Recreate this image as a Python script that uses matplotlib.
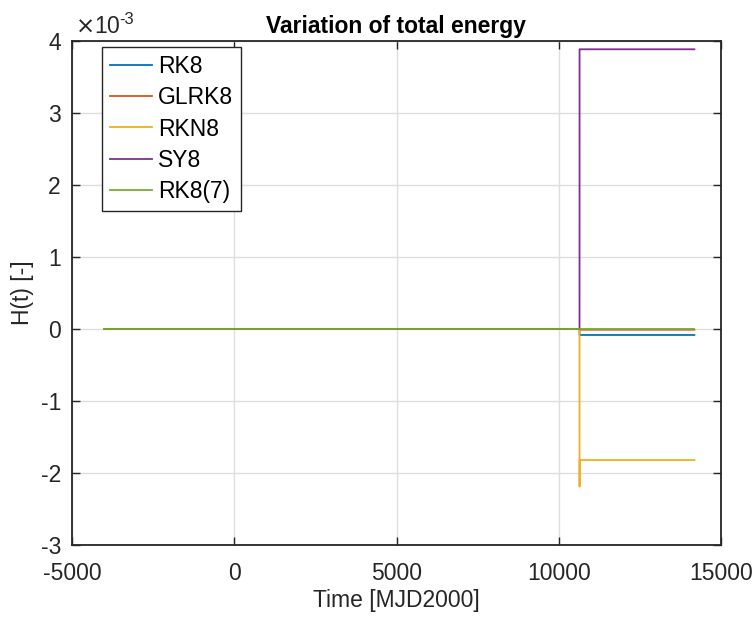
import matplotlib
matplotlib.use("Agg")
from matplotlib import pyplot as plt
from matplotlib.ticker import FuncFormatter

plt.rcParams["font.family"] = ["Liberation Sans", "DejaVu Sans"]
plt.rcParams["axes.unicode_minus"] = False

# time samples [MJD2000] and energy variation H(t) for each integrator
time = [-4000, 10640, 10641, 10642, 14180]
rk8 = [0.0, 0.0, -0.083e-3, -0.083e-3, -0.083e-3]
glrk8 = [0.0, 0.0, -0.01e-3, -0.01e-3, -0.01e-3]
rkn8 = [0.0, 0.0, -2.19e-3, -1.82e-3, -1.82e-3]
sy8 = [0.0, 0.0, 3.885e-3, 3.885e-3, 3.885e-3]
rk87 = [0.0, 0.0, 0.0, 0.0, 0.0]

labels = ["RK8", "GLRK8", "RKN8", "SY8", "RK8(7)"]
colors = ["#0072BD", "#D95319", "#EDB120", "#7E2F8E", "#77AC30"]
xticks = [-5000, 0, 5000, 10000, 15000]
yticks = [-3e-3, -2e-3, -1e-3, 0, 1e-3, 2e-3, 3e-3, 4e-3]

fs = 16.5
dark = "#262626"

figure = plt.figure(figsize=(7.54, 6.17), dpi=100)
axis = figure.add_axes([72 / 754, 1 - 545 / 617, 649 / 754, 504 / 617])

for series, label, color in zip([rk8, glrk8, rkn8, sy8, rk87], labels, colors):
    axis.plot(time, series, color=color, linewidth=1.3, label=label)

axis.set_xlim(-5000, 15000)
axis.set_ylim(-3e-3, 4e-3)
axis.set_xticks(xticks)
axis.set_yticks(yticks)
axis.yaxis.set_major_formatter(FuncFormatter(lambda v, pos: f"{v * 1e3:.0f}"))
axis.tick_params(direction="in", length=5.8, width=1, labelsize=fs,
                 top=True, right=True, colors=dark)
axis.tick_params(axis="x", pad=12)
axis.tick_params(axis="y", pad=8)
for spine in axis.spines.values():
    spine.set_linewidth(1.3)
    spine.set_color(dark)
axis.grid(True, color="#dedede", linewidth=1)
axis.set_axisbelow(True)

axis.set_xlabel("Time [MJD2000]", fontsize=fs, color=dark, labelpad=3)
axis.set_ylabel("H(t) [-]", fontsize=fs, color=dark, labelpad=5)
axis.set_title("Variation of total energy", fontsize=fs, fontweight="bold", pad=6)

# MATLAB-style exponent label above the y axis
axis.text(3 / 649, 1 + 8 / 504, r"$\times$10", transform=axis.transAxes,
          fontsize=fs, color=dark, ha="left", va="baseline")
axis.text(47 / 649, 1 + 17 / 504, "-3", transform=axis.transAxes,
          fontsize=fs * 0.72, color=dark, ha="left", va="baseline")

legend = axis.legend(loc="upper left", bbox_to_anchor=(30 / 649, 1 - 6 / 504),
                     borderaxespad=0, fancybox=False, edgecolor=dark,
                     fontsize=fs, handlelength=1.85, labelspacing=0.37,
                     borderpad=0.33, handletextpad=0.26)
legend.get_frame().set_linewidth(1.0)
legend.get_frame().set_alpha(1)

figure.savefig("out.png", dpi=100)
plt.close(figure)
